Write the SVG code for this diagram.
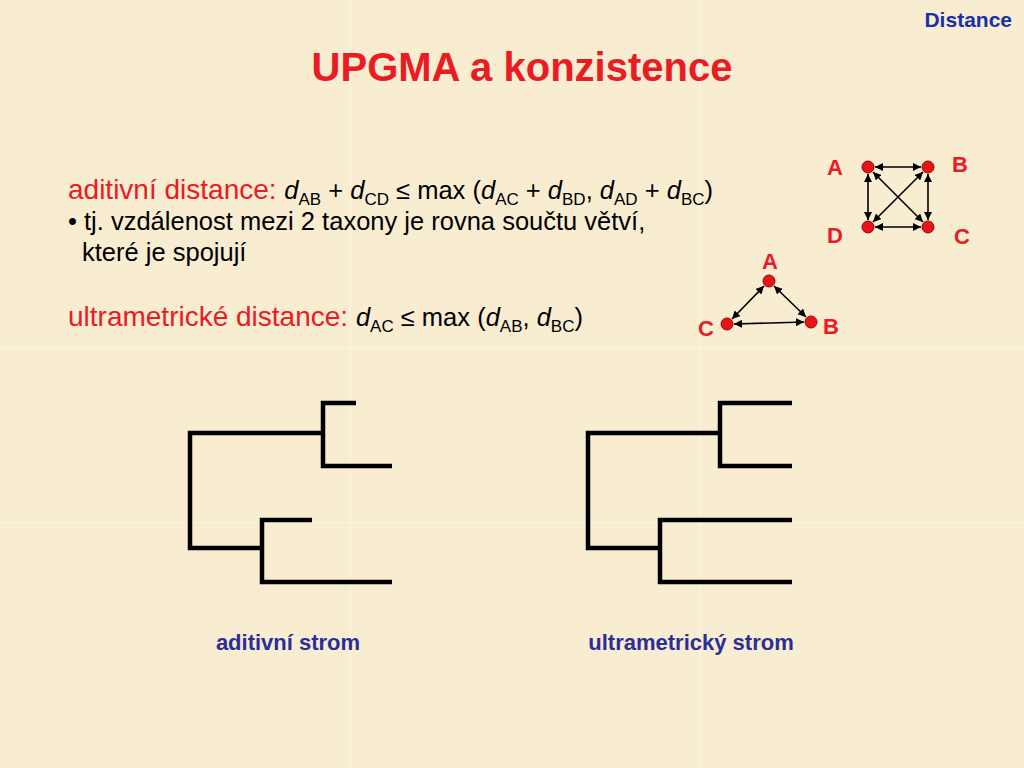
<svg xmlns="http://www.w3.org/2000/svg" width="1024" height="768" viewBox="0 0 1024 768">
<defs>
<style>
.t{font-family:"Liberation Sans",Arial,sans-serif}
.red{fill:#ea1b23}
.blk{fill:#000}
.lbl{font-family:"Liberation Sans",Arial,sans-serif;font-weight:bold;fill:#ea1b23;font-size:22px}
.cap{font-family:"Liberation Sans",Arial,sans-serif;font-weight:bold;fill:#2b2e98;font-size:22px}
.tree{fill:none;stroke:#000;stroke-width:4.5;stroke-linecap:butt;stroke-linejoin:miter}
.edge{stroke:#000;stroke-width:1.6;marker-start:url(#ah);marker-end:url(#ah)}
.node{fill:#e8141a;stroke:#8a0a0a;stroke-width:1}
.sub{font-size:17px}
</style>
<marker id="ah" viewBox="0 0 10 10" refX="10" refY="5" markerWidth="8" markerHeight="8" markerUnits="userSpaceOnUse" orient="auto-start-reverse">
<path d="M0,0 L10,5 L0,10 z" fill="#000"/>
</marker>
</defs>
<g id="background">
<rect width="1024" height="768" fill="#f8ecd1"/>
<g stroke="#fdf6e6" stroke-width="1.5" opacity="0.8">
<line x1="350" y1="0" x2="350" y2="768"/>
<line x1="700" y1="0" x2="700" y2="768"/>
<line x1="0" y1="348" x2="1024" y2="348"/>
<line x1="0" y1="523" x2="1024" y2="523"/>
</g>
</g>
<g id="header">
<text class="t" x="1012" y="27" text-anchor="end" font-size="21" font-weight="bold" fill="#1632a6">Distance</text>
<text class="t red" x="522" y="81" text-anchor="middle" font-size="40" font-weight="bold">UPGMA a konzistence</text>
</g>
<g id="text-body">
<text class="t" x="68" y="199"><tspan class="red" font-size="28">aditivní distance: </tspan><tspan class="blk" font-size="25.5"><tspan font-style="italic">d</tspan><tspan class="sub" dy="6">AB</tspan><tspan dy="-6"> + </tspan><tspan font-style="italic">d</tspan><tspan class="sub" dy="6">CD</tspan><tspan dy="-6"> ≤ max (</tspan><tspan font-style="italic">d</tspan><tspan class="sub" dy="6">AC</tspan><tspan dy="-6"> + </tspan><tspan font-style="italic">d</tspan><tspan class="sub" dy="6">BD</tspan><tspan dy="-6">, </tspan><tspan font-style="italic">d</tspan><tspan class="sub" dy="6">AD</tspan><tspan dy="-6"> + </tspan><tspan font-style="italic">d</tspan><tspan class="sub" dy="6">BC</tspan><tspan dy="-6">)</tspan></tspan></text>
<text class="t blk" x="68" y="230" font-size="25.5">• tj. vzdálenost mezi 2 taxony je rovna součtu větví,</text>
<text class="t blk" x="82" y="261" font-size="25.5">které je spojují</text>
<text class="t" x="68" y="326"><tspan class="red" font-size="28">ultrametrické distance: </tspan><tspan class="blk" font-size="25.5"><tspan font-style="italic">d</tspan><tspan class="sub" dy="6">AC</tspan><tspan dy="-6"> ≤ max (</tspan><tspan font-style="italic">d</tspan><tspan class="sub" dy="6">AB</tspan><tspan dy="-6">, </tspan><tspan font-style="italic">d</tspan><tspan class="sub" dy="6">BC</tspan><tspan dy="-6">)</tspan></tspan></text>
</g>
<g id="connectors">
<line class="edge" x1="875" y1="167" x2="921" y2="167"/>
<line class="edge" x1="875" y1="227" x2="921" y2="227"/>
<line class="edge" x1="868" y1="174" x2="868" y2="220"/>
<line class="edge" x1="928" y1="174" x2="928" y2="220"/>
<line class="edge" x1="873" y1="172" x2="923" y2="222"/>
<line class="edge" x1="923" y1="172" x2="873" y2="222"/>
<line class="edge" x1="764" y1="286" x2="732" y2="319"/>
<line class="edge" x1="774" y1="286" x2="806" y2="317"/>
<line class="edge" x1="734" y1="324" x2="804" y2="322"/>
</g>
<g id="node-sq-A"><circle class="node" cx="868" cy="167" r="6"/><text class="lbl" x="835" y="175" text-anchor="middle">A</text></g>
<g id="node-sq-B"><circle class="node" cx="928" cy="167" r="6"/><text class="lbl" x="960" y="172" text-anchor="middle">B</text></g>
<g id="node-sq-D"><circle class="node" cx="868" cy="227" r="6"/><text class="lbl" x="835" y="243" text-anchor="middle">D</text></g>
<g id="node-sq-C"><circle class="node" cx="928" cy="227" r="6"/><text class="lbl" x="962" y="244" text-anchor="middle">C</text></g>
<g id="node-tri-A"><circle class="node" cx="769" cy="281" r="6"/><text class="lbl" x="770" y="269" text-anchor="middle">A</text></g>
<g id="node-tri-C"><circle class="node" cx="727" cy="324" r="6"/><text class="lbl" x="706" y="336" text-anchor="middle">C</text></g>
<g id="node-tri-B"><circle class="node" cx="811" cy="322" r="6"/><text class="lbl" x="831" y="334" text-anchor="middle">B</text></g>
<g id="tree-additive">
<path class="tree" d="M356,403 H323 V466 H392"/>
<path class="tree" d="M323,433 H190 V548 H262"/>
<path class="tree" d="M312,520 H262 V582 H392"/>
<text class="cap" x="288" y="650" text-anchor="middle">aditivní strom</text>
</g>
<g id="tree-ultrametric">
<path class="tree" d="M792,403 H720 V466 H792"/>
<path class="tree" d="M720,433 H588 V548 H660"/>
<path class="tree" d="M792,520 H660 V582 H792"/>
<text class="cap" x="691" y="650" text-anchor="middle">ultrametrický strom</text>
</g>
</svg>
